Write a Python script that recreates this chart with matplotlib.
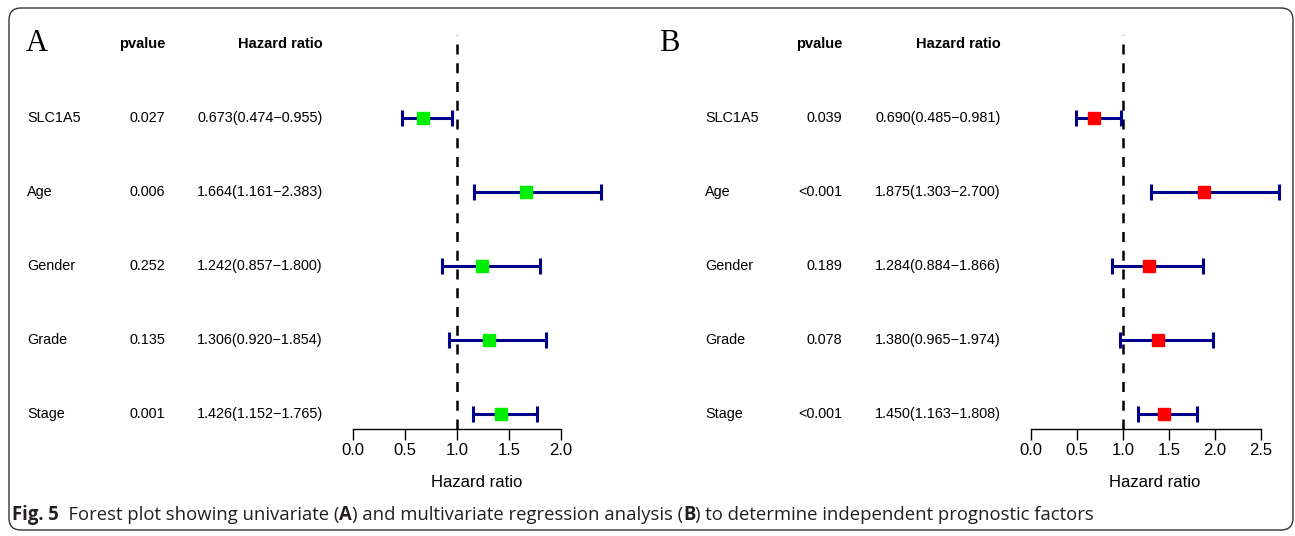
import matplotlib.pyplot as plt
import matplotlib.patches as mpatches
import matplotlib.transforms as mtrans

plt.rcParams['font.family'] = ['Liberation Sans', 'DejaVu Sans']

W, H = 1295, 536
fig = plt.figure(figsize=(W / 100, H / 100), dpi=100)

names = ['SLC1A5', 'Age', 'Gender', 'Grade', 'Stage']

# univariate (A)
pA = ['0.027', '0.006', '0.252', '0.135', '0.001']
hrA = [0.673, 1.664, 1.242, 1.306, 1.426]
loA = [0.474, 1.161, 0.857, 0.920, 1.152]
hiA = [0.955, 2.383, 1.800, 1.854, 1.765]
ticksA = [0.0, 0.5, 1.0, 1.5, 2.0]

# multivariate (B)
pB = ['0.039', '<0.001', '0.189', '0.078', '<0.001']
hrB = [0.690, 1.875, 1.284, 1.380, 1.450]
loB = [0.485, 1.303, 0.884, 0.965, 1.163]
hiB = [0.981, 2.700, 1.866, 1.974, 1.808]
ticksB = [0.0, 0.5, 1.0, 1.5, 2.0, 2.5]


def fx(px):
    return px / W


def panel(letter, x0, ppu, xmax, ticks, pv, hr, lo, hi, col, xs, labx):
    # xs: letter x, name left, pvalue right, HR right
    ax = fig.add_axes([fx(x0), 1 - 429 / H, xmax * ppu / W, 394 / H])
    ax.set_xlim(0, xmax)
    ax.set_ylim(4.2, -1.12)
    for s in ['top', 'right', 'left']:
        ax.spines[s].set_visible(False)
    ax.spines['bottom'].set_bounds(ticks[0], ticks[-1])
    ax.spines['bottom'].set_linewidth(1.0)
    ax.set_yticks([])
    ax.set_xticks(ticks)
    ax.set_xticklabels([f'{t:.1f}' for t in ticks], fontsize=12)
    ax.tick_params(axis='x', length=8, width=1.0, pad=2)
    ax.set_xlabel('Hazard ratio', fontsize=12)
    ax.xaxis.set_label_coords((labx - x0) / (xmax * ppu), -0.117)
    ax.patch.set_alpha(0)

    ax.axvline(1, color='black', lw=1.8, ls=(0, (4, 3.5)), zorder=1)
    y = list(range(len(hr)))
    xerr = [[h - l for h, l in zip(hr, lo)], [u - h for h, u in zip(hr, hi)]]
    ax.errorbar(hr, y, xerr=xerr, fmt='none', ecolor='#00008B', elinewidth=2.2,
                capsize=5.8, capthick=2.2, zorder=2, clip_on=False)
    ax.plot(hr, y, 's', color=col, ms=9.3, mec=col, zorder=3, clip_on=False)

    tr = mtrans.blended_transform_factory(fig.transFigure, ax.transData)
    ax.text(fx(xs[0]), -1.0, letter, transform=tr, fontsize=22,
            family='Liberation Serif', ha='center', va='center')
    ax.text(fx(xs[2]), -1.0, 'pvalue', transform=tr, fontsize=10.5,
            weight='bold', ha='right', va='center')
    ax.text(fx(xs[3]), -1.0, 'Hazard ratio', transform=tr, fontsize=10.5,
            weight='bold', ha='right', va='center')
    for i in y:
        ax.text(fx(xs[1]), i, names[i], transform=tr, fontsize=10.4, ha='left', va='center')
        ax.text(fx(xs[2]), i, pv[i], transform=tr, fontsize=10.4, ha='right', va='center')
        ax.text(fx(xs[3]), i, f'{hr[i]:.3f}({lo[i]:.3f}\u2212{hi[i]:.3f})',
                transform=tr, fontsize=10.4, ha='right', va='center')
    return ax


panel('A', 353, 104, 2.6, ticksA, pA, hrA, loA, hiA, '#00EE00', (37, 27, 165, 323), 477)
panel('B', 1031, 92, 2.8, ticksB, pB, hrB, loB, hiB, '#FF0000', (669, 705, 842, 1001), 1155)

# frame
frame = mpatches.FancyBboxPatch((9, 6), 1284, 522,
                                boxstyle='round,pad=0,rounding_size=12',
                                transform=mtrans.IdentityTransform(),
                                fc='none', ec='#333333', lw=1.0)
fig.patches.append(frame)

# caption with mixed bold parts
caption = [('Fig. 5', 'bold'), ('  Forest plot showing univariate (', 'normal'),
           ('A', 'bold'), (') and multivariate regression analysis (', 'normal'),
           ('B', 'bold'), (') to determine independent prognostic factors', 'normal')]
fig.canvas.draw()
r = fig.canvas.get_renderer()
x = 12
for s, wgt in caption:
    t = fig.text(fx(x), 1 - 515 / H, s, fontsize=13.35, weight=wgt, family='Open Sans',
                 ha='left', va='center', color='#231f20')
    x = t.get_window_extent(renderer=r).x1

fig.savefig('out.png', dpi=100)
